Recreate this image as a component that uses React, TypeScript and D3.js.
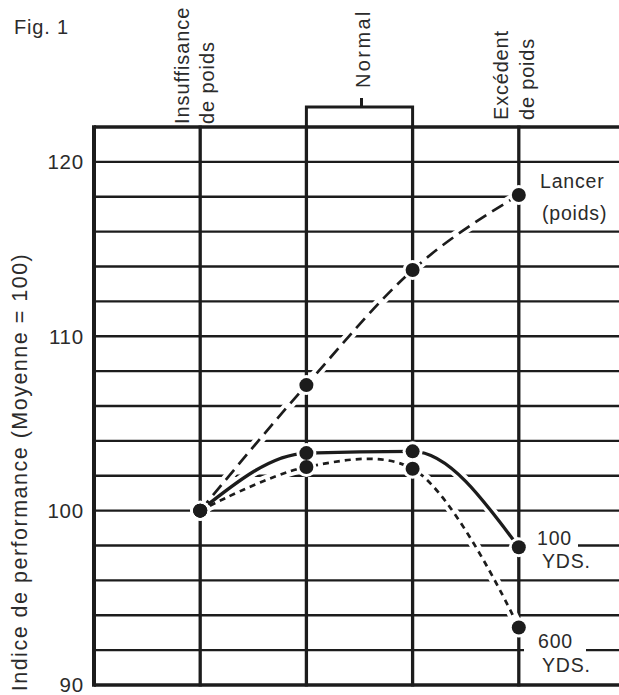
import React, { useEffect, useRef } from 'react'
import * as d3 from 'd3'

// weight classes (Normal spans two columns)
const categories = ['insuffisance', 'normal_bas', 'normal_haut', 'excedent']

// performance index per column
const lancerValues = [100, 107.2, 113.8, 118.1]
const yds100Values = [100, 103.3, 103.4, 97.9]
const yds600Values = [100, 102.5, 102.4, 93.3]

const yTickLabels = [90, 100, 110, 120]

const INK = '#1c1c1c'
const TEXT = '#2b2b2b'
const FONT = '"Liberation Sans", Arial, Helvetica, sans-serif'

const W = 619
const H = 695

const App: React.FC = () => {
  const svgRef = useRef<SVGSVGElement>(null)

  useEffect(() => {
    if (!svgRef.current) return
    const svg = d3.select(svgRef.current)
    svg.selectAll('*').remove()

    const left = 94
    const top = 127
    const bottom = 685

    const x = d3.scalePoint<string>()
      .domain(categories)
      .range([left, 625])
      .padding(1)

    const y = d3.scaleLinear()
      .domain([90, 122])
      .range([bottom, top])

    svg.append('rect')
      .attr('width', W)
      .attr('height', H)
      .attr('fill', '#fff')

    const grid = svg.append('g')

    // horizontal lines every 2 points
    const gridTicks = y.ticks(16)
    grid.selectAll('line.h')
      .data(gridTicks)
      .enter()
      .append('line')
      .attr('x1', left)
      .attr('x2', W)
      .attr('y1', d => y(d))
      .attr('y2', d => y(d))
      .attr('stroke', INK)
      .attr('stroke-width', d => (d === 90 || d === 122 ? 3.5 : 2.3))

    // vertical lines
    grid.selectAll('line.v')
      .data(categories)
      .enter()
      .append('line')
      .attr('x1', d => x(d)!)
      .attr('x2', d => x(d)!)
      .attr('y1', top - 1.5)
      .attr('y2', bottom + 1.5)
      .attr('stroke', INK)
      .attr('stroke-width', 3.3)

    grid.append('line')
      .attr('x1', left)
      .attr('x2', left)
      .attr('y1', top - 1.7)
      .attr('y2', bottom + 1.7)
      .attr('stroke', INK)
      .attr('stroke-width', 4)

    // bracket over the two Normal columns
    const nx1 = x('normal_bas')!
    const nx2 = x('normal_haut')!
    const nmid = (nx1 + nx2) / 2
    svg.append('path')
      .attr('d', `M${nx1},${top} V107 H${nx2} V${top} M${nmid + 2},107 V98`)
      .attr('fill', 'none')
      .attr('stroke', INK)
      .attr('stroke-width', 3)

    // white patches behind the series labels
    const patches = [
      { x: 527, y: 172, w: 92, h: 54 },
      { x: 524, y: 528, w: 54, h: 46 },
      { x: 524, y: 630, w: 62, h: 47 },
    ]
    svg.selectAll('rect.patch')
      .data(patches)
      .enter()
      .append('rect')
      .attr('x', d => d.x)
      .attr('y', d => d.y)
      .attr('width', d => d.w)
      .attr('height', d => d.h)
      .attr('fill', '#fff')

    // hand-drawn curves: pick the spline that follows each one best
    const series = [
      { name: 'lancer', values: lancerValues, dash: '13,7', width: 2.7, curve: d3.curveMonotoneX },
      { name: '100', values: yds100Values, dash: null, width: 3.3, curve: d3.curveMonotoneX },
      { name: '600', values: yds600Values, dash: '6,5', width: 2.7, curve: d3.curveCatmullRom.alpha(0.5) },
    ]

    const lineFor = (curve: d3.CurveFactory) => d3.line<number>()
      .x((_, i) => x(categories[i])!)
      .y(d => y(d))
      .curve(curve)

    const halo = svg.append('g')
    series.forEach(s => {
      halo.append('path')
        .datum(s.values)
        .attr('d', lineFor(s.curve))
        .attr('fill', 'none')
        .attr('stroke', '#fff')
        .attr('stroke-width', 10)
        .attr('stroke-linecap', 'round')
    })

    const lines = svg.append('g')
    series.forEach(s => {
      const p = lines.append('path')
        .datum(s.values)
        .attr('d', lineFor(s.curve))
        .attr('fill', 'none')
        .attr('stroke', INK)
        .attr('stroke-width', s.width)
      if (s.dash) p.attr('stroke-dasharray', s.dash)
    })

    const dots = svg.append('g')
    series.forEach(s => {
      dots.selectAll(null)
        .data(s.values)
        .enter()
        .append('circle')
        .attr('cx', (_, i) => x(categories[i])!)
        .attr('cy', d => y(d))
        .attr('r', 10)
        .attr('fill', '#fff')
    })
    series.forEach(s => {
      dots.selectAll(null)
        .data(s.values)
        .enter()
        .append('circle')
        .attr('cx', (_, i) => x(categories[i])!)
        .attr('cy', d => y(d))
        .attr('r', 7)
        .attr('fill', INK)
    })

    const txt = svg.append('g')
      .attr('font-family', FONT)
      .attr('fill', TEXT)
      .attr('letter-spacing', 0.8)

    txt.append('text')
      .attr('x', 14)
      .attr('y', 34)
      .attr('font-size', 20)
      .text('Fig. 1')

    // y tick labels
    txt.selectAll('text.tick')
      .data(yTickLabels)
      .enter()
      .append('text')
      .attr('x', 84)
      .attr('y', d => y(d))
      .attr('dy', '0.36em')
      .attr('text-anchor', 'end')
      .attr('font-size', 20.5)
      .text(d => d)

    txt.append('text')
      .attr('transform', `translate(27,${(257 + 687) / 2}) rotate(-90)`)
      .attr('text-anchor', 'middle')
      .attr('font-size', 21.5)
      .attr('letter-spacing', 1.5)
      .text('Indice de performance (Moyenne = 100)')

    // column group labels, rotated
    const groupLabels = [
      { text: 'Insuffisance', bx: x('insuffisance')! - 11, by: 124, ls: 0.9 },
      { text: 'de poids', bx: x('insuffisance')! + 14, by: 124, ls: 0.9 },
      { text: 'Normal', bx: nmid + 10, by: 88, ls: 2.4 },
      { text: 'Excédent', bx: x('excedent')! - 11, by: 120, ls: 0.8 },
      { text: 'de poids', bx: x('excedent')! + 15, by: 120, ls: 0.8 },
    ]
    txt.selectAll('text.group')
      .data(groupLabels)
      .enter()
      .append('text')
      .attr('transform', d => `translate(${d.bx},${d.by}) rotate(-90)`)
      .attr('font-size', 20)
      .attr('letter-spacing', d => d.ls)
      .text(d => d.text)

    // series labels
    const seriesLabels = [
      { text: 'Lancer', x: 540, y: 188 },
      { text: '(poids)', x: 542, y: 220 },
      { text: '100', x: 537, y: 545 },
      { text: 'YDS.', x: 542, y: 568 },
      { text: '600', x: 538, y: 648 },
      { text: 'YDS.', x: 542, y: 672 },
    ]
    txt.selectAll('text.series')
      .data(seriesLabels)
      .enter()
      .append('text')
      .attr('x', d => d.x)
      .attr('y', d => d.y)
      .attr('font-size', 19.5)
      .text(d => d.text)
  }, [])

  return (
    <svg
      ref={svgRef}
      width={W}
      height={H}
      style={{ position: 'absolute', left: 0, top: 0, display: 'block' }}
    />
  )
}

export default App
